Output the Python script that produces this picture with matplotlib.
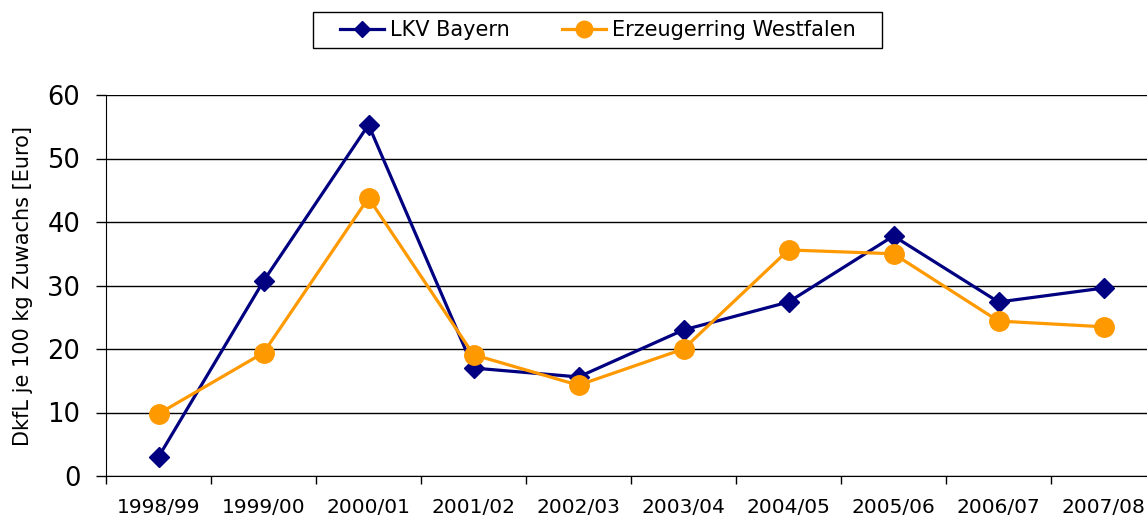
import matplotlib
matplotlib.use("Agg")
import matplotlib.pyplot as plt
from matplotlib.patches import Rectangle
from matplotlib.ticker import FixedLocator, NullFormatter

categories = ["1998/99", "1999/00", "2000/01", "2001/02", "2002/03",
              "2003/04", "2004/05", "2005/06", "2006/07", "2007/08"]
lkv_bayern = [3.0, 30.7, 55.3, 17.0, 15.6, 23.0, 27.4, 37.8, 27.4, 29.6]
westfalen = [9.8, 19.4, 43.8, 19.1, 14.3, 20.0, 35.6, 35.0, 24.4, 23.5]
yticks = [0, 10, 20, 30, 40, 50, 60]

plt.rcParams['font.family'] = ['DejaVu Sans']

W, H = 1147, 522
fig = plt.figure(figsize=(W/100, H/100), dpi=100)
ax = fig.add_axes([106/W, 1-476/H, 1050/W, (476-95)/H])

x = list(range(len(categories)))
ax.plot(x, lkv_bayern, color="#000080", lw=2.3, marker="D", ms=10, label="LKV Bayern")
ax.plot(x, westfalen, color="#FF9900", lw=2.3, marker="o", ms=14, label="Erzeugerring Westfalen")

ax.set_xlim(-0.5, len(categories)-0.5)
ax.set_ylim(0, 60)
ax.set_yticks(yticks)
ax.tick_params(axis='y', labelsize=18.5, length=7.5, width=1, direction='out', pad=11)
ax.yaxis.grid(True, color='black', lw=1)
ax.set_axisbelow(True)

ax.set_xticks(x)
ax.set_xticklabels(categories, fontsize=14.5)
ax.tick_params(axis='x', which='major', length=0, pad=16)
ax.xaxis.set_minor_locator(FixedLocator([i + 0.5 for i in range(-1, len(categories))]))
ax.xaxis.set_minor_formatter(NullFormatter())
ax.tick_params(axis='x', which='minor', length=6, width=1, direction='out')

for s in ['top', 'right']:
    ax.spines[s].set_visible(False)
ax.spines['left'].set_color('black')
ax.spines['bottom'].set_color('black')

ax.set_ylabel("DkfL je 100 kg Zuwachs [Euro]", fontsize=15)
ax.yaxis.set_label_coords(-0.0695, 0.5)

leg = fig.legend(loc='center', bbox_to_anchor=(598/W, 1-30/H), ncol=2,
                 fontsize=15, frameon=False,
                 handlelength=2.1, handletextpad=0.3, columnspacing=2.5,
                 borderpad=0.3, borderaxespad=0, markerscale=0.85)
fig.patches.append(Rectangle((313/W, 1-48/H), (882-313)/W, 36/H,
                             transform=fig.transFigure, fill=False,
                             edgecolor='black', lw=1))

fig.savefig("out.png", dpi=100)
